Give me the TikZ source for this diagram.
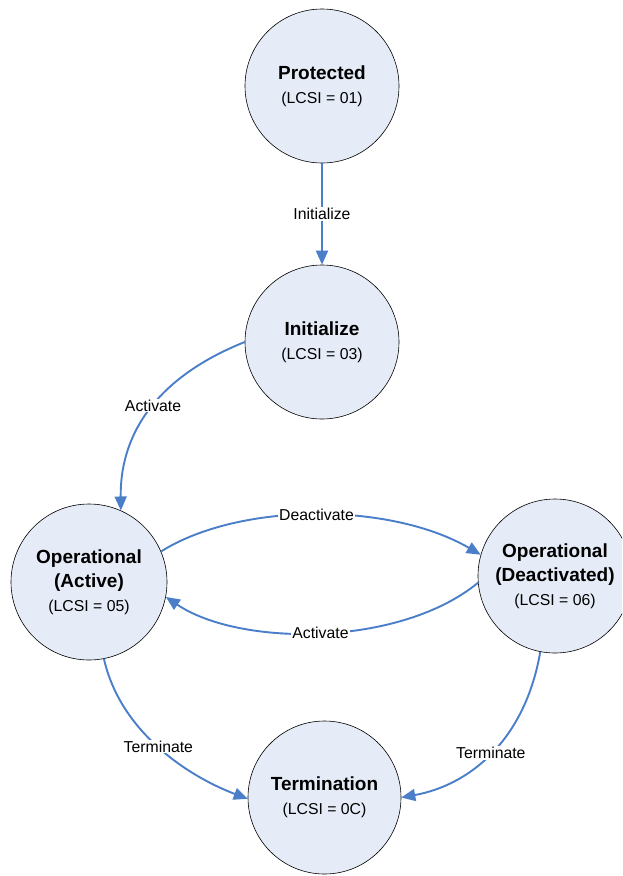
\documentclass[tikz,border=0pt]{standalone}
\usepackage{fontspec}
\setmainfont{Liberation Sans}
\usetikzlibrary{arrows.meta}
\definecolor{nodefill}{HTML}{E6ECF7}
\definecolor{edgeblue}{HTML}{4A7EC8}
\newcommand\hdline[1]{{\fontsize{19}{24}\selectfont\bfseries #1}}
\begin{document}
\begin{tikzpicture}[x=1pt,y=-1pt,
 state/.style={circle,draw=black,line width=0.6pt,fill=nodefill,minimum size=154pt,inner sep=0pt,align=center,font=\fontsize{15.8}{24}\selectfont},
 edge/.style={draw=edgeblue,line width=1.9pt,-{Triangle[length=14pt,width=12pt]}},
 lbl/.style={fill=white,inner sep=1pt,font=\fontsize{15.8}{18}\selectfont}]
\useasboundingbox (0,0) rectangle (622,876);
\clip (0,0) rectangle (622,876);
\node[state] (prot) at (322,86) {\hdline{Protected}\\(LCSI = 01)};
\node[state] (init) at (322,342) {\hdline{Initialize}\\(LCSI = 03)};
\node[state,minimum size=156pt] (act) at (89,582) {\hdline{Operational}\\\hdline{(Active)}\\(LCSI = 05)};
\node[state] (deact) at (555,576) {\hdline{Operational}\\\hdline{(Deactivated)}\\(LCSI = 06)};
\node[state,minimum size=153pt] (term) at (324.5,797.5) {\hdline{Termination}\\(LCSI = 0C)};

\draw[edge] (prot) -- node[lbl] {Initialize} (init);
\draw[edge] (init.180) .. controls (150,380) and (120,440) .. node[lbl,pos=0.45] {Activate} (act.66);
\draw[edge] (act.23) .. controls (240,502) and (390,502) .. node[lbl,pos=0.5] {Deactivate} (deact.164);
\draw[edge] (deact.185) .. controls (400,647) and (240,647) .. node[lbl,pos=0.5] {Activate} (act.349);
\draw[edge] (act.281) .. controls (120,730) and (185,775) .. node[lbl,pos=0.5] {Terminate} (term.181);
\draw[edge] (deact.259) .. controls (525,740) and (470,785) .. node[lbl,pos=0.5] {Terminate} (term.0);
\end{tikzpicture}
\end{document}
